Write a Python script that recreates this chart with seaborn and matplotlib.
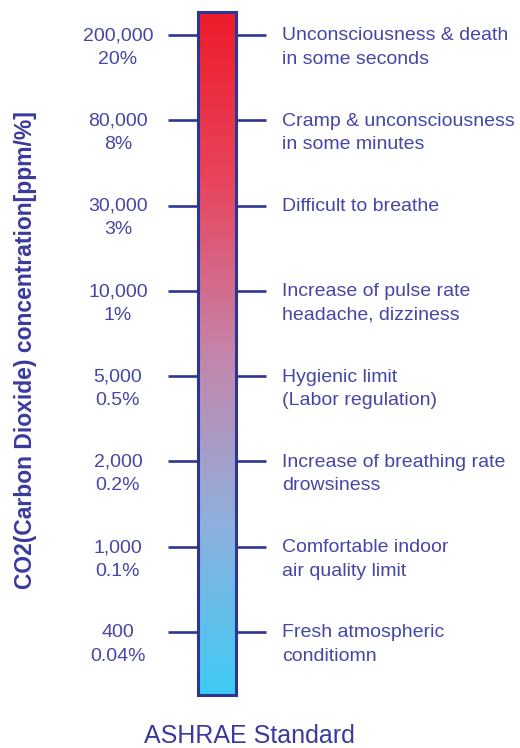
import numpy as np
import matplotlib
matplotlib.use('Agg')
import matplotlib.pyplot as plt
from matplotlib.colors import LinearSegmentedColormap
import seaborn as sns

#%%
# CO2 levels, bottom to top
ppm_labels = ['400', '1,000', '2,000', '5,000', '10,000', '30,000', '80,000', '200,000']
pct_labels = ['0.04%', '0.1%', '0.2%', '0.5%', '1%', '3%', '8%', '20%']
effects = ['Fresh atmospheric\nconditiomn',
           'Comfortable indoor\nair quality limit',
           'Increase of breathing rate\ndrowsiness',
           'Hygienic limit\n(Labor regulation)',
           'Increase of pulse rate\nheadache, dizziness',
           'Difficult to breathe',
           'Cramp & unconsciousness\nin some minutes',
           'Unconsciousness & death\nin some seconds']

#%%
sns.set_theme(style='white')
plt.rcParams['font.family'] = ['Liberation Sans', 'DejaVu Sans']

navy = '#2e3592'
txt = '#4646a6'

fig = plt.figure(figsize=(5.2, 7.48), dpi=100)
ax = fig.add_axes([198/520, 53/748, 38/520, 683/748])

levels = np.arange(len(ppm_labels))
ylo, yhi = -0.739, len(levels) - 1 + 0.27

#gradient bar
cmap = LinearSegmentedColormap.from_list('co2', ['#3ecbf4', '#8fb0de', '#c585aa', '#e8455e', '#ee1c2a'])
grad = np.linspace(0, 1, 256).reshape(-1, 1)
ax.imshow(grad, aspect='auto', cmap=cmap, origin='lower', extent=[0, 1, ylo, yhi])
ax.set_xlim(0, 1)
ax.set_ylim(ylo, yhi)
ax.set_xticks([])

for s in ax.spines.values():
    s.set_visible(True)
    s.set_color(navy)
    s.set_linewidth(2.2)

ax.set_yticks(levels)
ax.tick_params(axis='y', which='major', left=True, right=True, direction='out',
               length=21.6, width=1.9, color=navy, labelleft=False, labelright=False)

#labels on both sides, first line level with the tick
for lv, ppm, pct, eff in zip(levels, ppm_labels, pct_labels, effects):
    ax.annotate(ppm + '\n' + pct, xy=(0, lv), xycoords=('axes fraction', 'data'),
                xytext=(-57.6, 5.5), textcoords='offset points',
                ha='center', va='top', fontsize=14, color=txt, linespacing=1.5)
    ax.annotate(eff, xy=(1, lv), xycoords=('axes fraction', 'data'),
                xytext=(33, 5.5), textcoords='offset points',
                ha='left', va='top', fontsize=14, color=txt, linespacing=1.5)

fig.text(26/520, 1 - 350/748, 'CO2(Carbon Dioxide) concentration[ppm/%]', rotation=90,
         ha='center', va='center', fontsize=16.5, fontweight='bold', color='#3a3a9e')
fig.text(249/520, 12/748, 'ASHRAE Standard', ha='center', va='center',
         fontsize=18, color='#3a3a9e')

plt.savefig('out.png', dpi=100)
